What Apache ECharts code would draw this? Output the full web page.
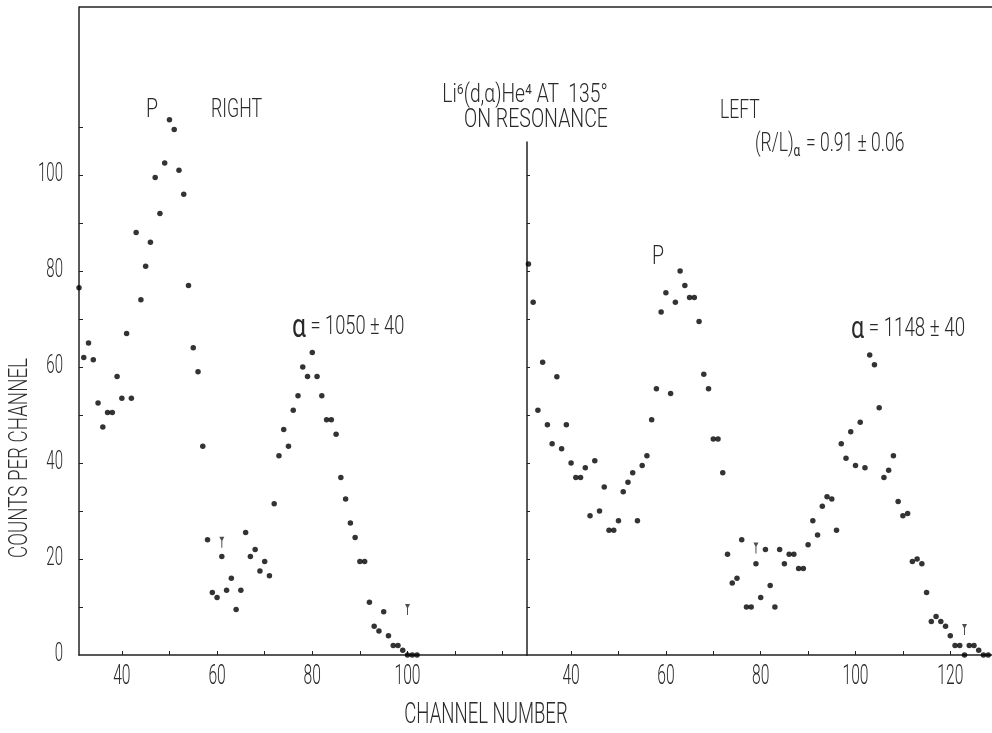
<!DOCTYPE html>
<html>
<head>
<meta charset="utf-8">
<script src="https://cdn.jsdelivr.net/npm/echarts@6/dist/echarts.min.js"></script>
<style>
  html, body { margin: 0; padding: 0; background: #fff; }
  #chart { width: 992px; height: 733px; }
</style>
</head>
<body>
<div id="chart"></div>
<script>
// "RIGHT" detector, drawn in the left panel
const rightChannels = [31, 32, 33, 34, 35, 36, 37, 38, 39, 40, 41, 42, 43, 44, 45, 46, 47, 48, 49, 50,
    51, 52, 53, 54, 55, 56, 57, 58, 59, 60, 61, 62, 63, 64, 65, 66, 67, 68, 69, 70,
    71, 72, 73, 74, 75, 76, 77, 78, 79, 80, 81, 82, 83, 84, 85, 86, 87, 88, 89, 90,
    91, 92, 93, 94, 95, 96, 97, 98, 99, 100, 101, 102];
const rightCounts = [76.5, 62, 65, 61.5, 52.5, 47.5, 50.5, 50.5, 58, 53.5, 67, 53.5, 88, 74, 81, 86, 99.5, 92, 102.5, 111.5,
    109.5, 101, 96, 77, 64, 59, 43.5, 24, 13, 12, 20.5, 13.5, 16, 9.5, 13.5, 25.5, 20.5, 22, 17.5, 19.5,
    16.5, 31.5, 41.5, 47, 43.5, 51, 54, 60, 58, 63, 58, 54, 49, 49, 46, 37, 32.5, 27.5, 24.5, 19.5,
    19.5, 11, 6, 5, 9, 4, 2, 2, 1, 0, 0, 0];

// "LEFT" detector, drawn in the right panel
const leftChannels = [31, 32, 33, 34, 35, 36, 37, 38, 39, 40, 41, 42, 43, 44, 45, 46, 47, 48, 49, 50,
    51, 52, 53, 54, 55, 56, 57, 58, 59, 60, 61, 62, 63, 64, 65, 66, 67, 68, 69, 70,
    71, 72, 73, 74, 75, 76, 77, 78, 79, 80, 81, 82, 83, 84, 85, 86, 87, 88, 89, 90,
    91, 92, 93, 94, 95, 96, 97, 98, 99, 100, 101, 102, 103, 104, 105, 106, 107, 108, 109, 110,
    111, 112, 113, 114, 115, 116, 117, 118, 119, 120, 121, 122, 123, 124, 125, 126, 127, 128];
const leftCounts = [81.5, 73.5, 51, 61, 48, 44, 58, 43, 48, 40, 37, 37, 39, 29, 40.5, 30, 35, 26, 26, 28,
    34, 36, 38, 28, 39.5, 41.5, 49, 55.5, 71.5, 75.5, 54.5, 73.5, 80, 77, 74.5, 74.5, 69.5, 58.5, 55.5, 45,
    45, 38, 21, 15, 16, 24, 10, 10, 19, 12, 22, 14.5, 10, 22, 19, 21, 21, 18, 18, 23,
    28, 25, 31, 33, 32.5, 26, 44, 41, 46.5, 39.5, 48.5, 39, 62.5, 60.5, 51.5, 37, 38.5, 41.5, 32, 29,
    29.5, 19.5, 20, 19, 13, 7, 8, 7, 6, 4, 2, 2, 0, 2, 2, 1, 0, 0];

// small arrow marks above the spectra
const rightArrows = [[61, 23.5], [100, 9.5]];
const leftArrows = [[79, 22.3], [123, 5.3]];

// axis ticks and labels
const xTicks = [40, 50, 60, 70, 80, 90, 100, 110, 120];
const xLabelsRight = [40, 60, 80, 100];
const xLabelsLeft = [40, 60, 80, 100, 120];
const yTicks = [10, 20, 30, 40, 50, 60, 70, 80, 90, 100, 110];
const yTicksDivider = [10, 20, 30, 40, 50, 60, 70, 80, 90, 100];
const yLabels = [0, 20, 40, 60, 80, 100];

const FONT = "Roboto, 'Liberation Sans', sans-serif";
const INK = '#222';
const TEXT = '#2a2a2a';
const arrowPath = 'path://M0,0 L5,0 L3,4 L3,11 L2,11 L2,4 Z';

const chart = echarts.init(document.getElementById('chart'));

function pairs(xs, ys) {
    return xs.map((x, i) => [x, ys[i]]);
}

// narrow, light lettering like the original drawing
function note(x, y, text, size, squeeze, align, rich) {
    return {
        type: 'text', x: x, y: y, scaleX: squeeze,
        style: {
            text: text, fontFamily: FONT, fontWeight: 300, fontSize: size, fill: TEXT,
            align: align || 'center', verticalAlign: 'middle', rich: rich
        }
    };
}

const axisLine = { show: true, onZero: false, lineStyle: { color: INK, width: 1.5 } };

const annotations = [
    // top frame line
    { type: 'line', shape: { x1: 79, y1: 7, x2: 992, y2: 7 }, style: { stroke: INK, lineWidth: 1.5 } },
    Object.assign(note(20, 458, 'COUNTS PER CHANNEL', 26, 0.72), { rotation: Math.PI / 2 }),
    note(486, 716, 'CHANNEL NUMBER', 29, 0.64),
    note(152, 110, 'P', 26, 0.75),
    note(211, 111, 'RIGHT', 25, 0.71, 'left'),
    note(525, 96, 'Li⁶(d,α)He⁴ AT  135°', 25, 0.77),
    note(536, 121, 'ON RESONANCE', 25, 0.78),
    note(720, 112, 'LEFT', 25, 0.7, 'left'),
    note(755, 145, '(R/L){s|α} = 0.91 ± 0.06', 25, 0.7, 'left',
        { s: { fontSize: 17, fontFamily: FONT, fill: TEXT, padding: [13, 2, 0, 0] } }),
    note(658, 257, 'P', 26, 0.75),
    note(292, 328, '{a|α} = 1050 ± 40', 25, 0.73, 'left',
        { a: { fontSize: 34, fontFamily: FONT, fill: TEXT } }),
    note(851, 330, '{a|α} = 1148 ± 40', 25, 0.75, 'left',
        { a: { fontSize: 31, fontFamily: FONT, fill: TEXT } })
];

const option = {
    backgroundColor: '#fff',
    animation: false,
    grid: [
        { left: 79, top: 7, width: 448, height: 648 },
        { left: 527, top: 142, width: 465, height: 513 }
    ],
    xAxis: [
        {
            gridIndex: 0, type: 'value', min: 31, max: 125.1,
            axisLine: axisLine,
            splitLine: { show: false },
            axisTick: { show: true, inside: true, length: 4, customValues: xTicks, lineStyle: { color: INK } },
            axisLabel: { show: false }
        },
        {
            gridIndex: 1, type: 'value', min: 30.7, max: 128.8,
            axisLine: axisLine,
            splitLine: { show: false },
            axisTick: { show: true, inside: true, length: 4, customValues: xTicks, lineStyle: { color: INK } },
            axisLabel: { show: false }
        }
    ],
    yAxis: [
        {
            gridIndex: 0, type: 'value', min: 0, max: 135,
            axisLine: axisLine,
            splitLine: { show: false },
            axisTick: { show: true, inside: true, length: 4, customValues: yTicks, lineStyle: { color: INK } },
            axisLabel: { show: false }
        },
        {
            gridIndex: 1, type: 'value', min: 0, max: 106.9,
            axisLine: axisLine,
            splitLine: { show: false },
            axisTick: { show: true, inside: true, length: 3, customValues: yTicksDivider, lineStyle: { color: INK } },
            axisLabel: { show: false }
        },
        {
            gridIndex: 1, type: 'value', min: 0, max: 106.9,
            axisLine: { show: false },
            splitLine: { show: false },
            axisTick: { show: true, inside: false, length: 3, customValues: yTicksDivider, lineStyle: { color: INK } },
            axisLabel: { show: false }
        }
    ],
    series: [
        {
            type: 'scatter', xAxisIndex: 0, yAxisIndex: 0,
            data: pairs(rightChannels, rightCounts),
            symbol: 'circle', symbolSize: 5.5,
            itemStyle: { color: '#000' }
        },
        {
            type: 'scatter', xAxisIndex: 1, yAxisIndex: 1,
            data: pairs(leftChannels, leftCounts),
            symbol: 'circle', symbolSize: 5.5,
            itemStyle: { color: '#000' }
        },
        {
            type: 'scatter', xAxisIndex: 0, yAxisIndex: 0,
            data: rightArrows,
            symbol: arrowPath, symbolSize: [5, 11],
            itemStyle: { color: '#222' }
        },
        {
            type: 'scatter', xAxisIndex: 1, yAxisIndex: 1,
            data: leftArrows,
            symbol: arrowPath, symbolSize: [5, 11],
            itemStyle: { color: '#222' }
        }
    ],
    graphic: annotations
};

chart.setOption(option);

// tick labels in the same narrow lettering, placed through the axes' own scales
const tickLabels = [];
yLabels.forEach(v => {
    const p = chart.convertToPixel({ xAxisIndex: 0, yAxisIndex: 0 }, [31, v]);
    tickLabels.push(note(63, p[1], String(v), 25, 0.6, 'right'));
});
xLabelsRight.forEach(v => {
    const p = chart.convertToPixel({ xAxisIndex: 0, yAxisIndex: 0 }, [v, 0]);
    tickLabels.push(note(p[0], 677, String(v), 27, 0.58));
});
xLabelsLeft.forEach(v => {
    const p = chart.convertToPixel({ xAxisIndex: 1, yAxisIndex: 1 }, [v, 0]);
    tickLabels.push(note(p[0], 677, String(v), 27, 0.58));
});
chart.setOption({ graphic: annotations.concat(tickLabels) });
</script>
</body>
</html>
